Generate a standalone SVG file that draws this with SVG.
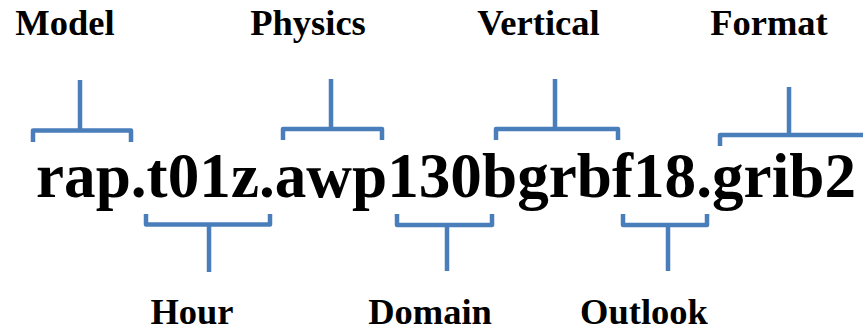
<svg xmlns="http://www.w3.org/2000/svg" width="863" height="331" viewBox="0 0 863 331">
  <style>
    .lbl { font-family: 'Liberation Serif', 'Times New Roman', serif; font-weight: bold; font-size: 36.5px; fill: #000; text-anchor: middle; }
    .main { font-family: 'Liberation Serif', 'Times New Roman', serif; font-weight: bold; font-size: 63.5px; fill: #000; }
    .br { fill: none; stroke: #4a7ebb; stroke-width: 4.5; stroke-linejoin: round; stroke-linecap: butt; }
  </style>
  <rect width="863" height="331" fill="#fff"/>
  <g id="filename">
    <text class="main" x="36" y="197" textLength="820" lengthAdjust="spacingAndGlyphs">rap.t01z.awp130bgrbf18.grib2</text>
  </g>
  <g id="label-model"><text class="lbl" x="65" y="35">Model</text></g>
  <g id="label-physics"><text class="lbl" x="308" y="35">Physics</text></g>
  <g id="label-vertical"><text class="lbl" x="538.5" y="35">Vertical</text></g>
  <g id="label-format"><text class="lbl" x="769" y="35">Format</text></g>
  <g id="label-hour"><text class="lbl" x="192" y="324">Hour</text></g>
  <g id="label-domain"><text class="lbl" x="430" y="324">Domain</text></g>
  <g id="label-outlook"><text class="lbl" x="644" y="324">Outlook</text></g>
  <g id="connectors">
    <path class="br" d="M33,142 V130.5 H131 V142 M80,80 V130.5"/>
    <path class="br" d="M283,140 V129 H382 V140 M331,79 V129"/>
    <path class="br" d="M496,140 V129 H618 V140 M555,79 V129"/>
    <path class="br" d="M720,146 V135 H866 M789,87 V135"/>
    <path class="br" d="M146,214 V224.5 H270 V214 M209,224.5 V272"/>
    <path class="br" d="M397,214 V225 H492 V214 M447,225 V271"/>
    <path class="br" d="M623,214 V225 H707 V214 M668,225 V271"/>
  </g>
</svg>
